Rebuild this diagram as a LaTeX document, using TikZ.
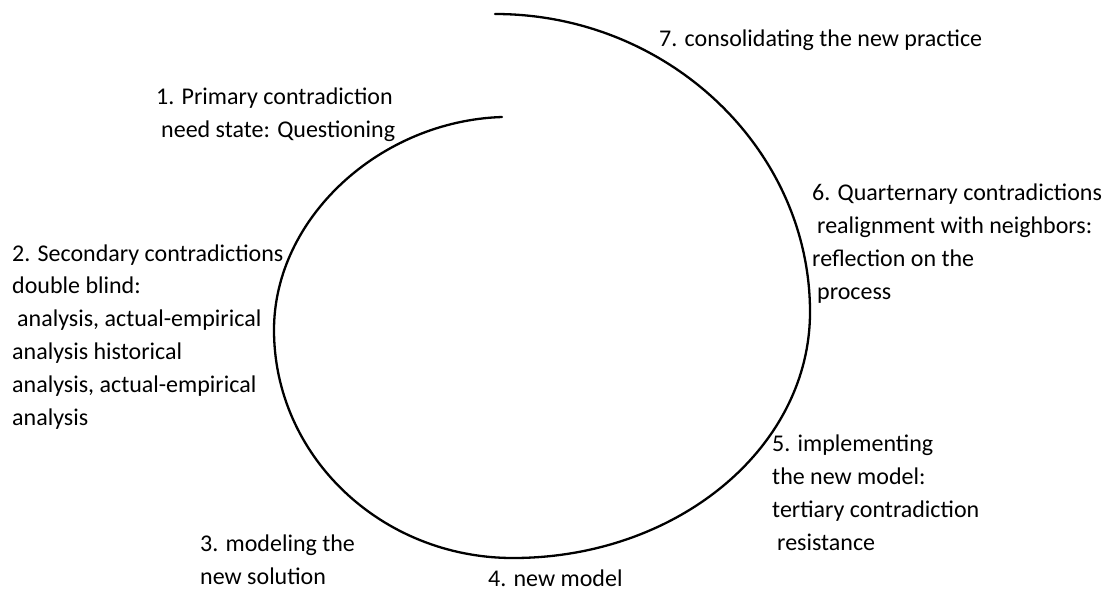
\documentclass[tikz,border=0pt]{standalone}
\usepackage{fontspec}
\setmainfont{Carlito}
\usetikzlibrary{positioning}
\tikzset{
  stage/.style={anchor=base west, align=left, inner sep=0pt,
    font=\fontsize{24}{32.8}\selectfont},
  spiral/.style={line width=2.3pt, line cap=round},
}

\begin{document}
\begin{tikzpicture}[x=1pt,y=-1pt]
\useasboundingbox (0,0) rectangle (1107,592);
\coordinate (inner) at (502,117);
\coordinate (left) at (274,330);
\coordinate (bottom) at (513,558);
\coordinate (right) at (810,312);
\coordinate (outer) at (495,14);
\draw[spiral] (inner)
  .. controls (380,121) and (274,218) .. (left)
  .. controls (274,456) and (381,558) .. (bottom)
  .. controls (677,558) and (810,448) .. (right)
  .. controls (810,150) and (669,14) .. (outer);
% base anchor sits on the last line
\node[stage] (s7) at (659,46) {7. consolidating the new practice};
\node[stage] (s1) at (156,137) {1. Primary contradiction\\
  \hspace{5pt}need state: Questioning};
\node[stage] (s2) at (12,425) {2. Secondary contradictions\\
  double blind:\\
  \hspace{5pt}analysis, actual-empirical\\
  analysis historical\\
  analysis, actual-empirical\\
  analysis};
\node[stage] (s6) at (812,299) {6. Quarternary contradictions\\
  \hspace{5pt}realignment with neighbors:\\
  reflection on the\\
  \hspace{5pt}process};
\node[stage] (s5) at (772,550) {5. implementing\\
  the new model:\\
  tertiary contradiction\\
  \hspace{5pt}resistance};
\node[stage] (s3) at (200,584) {3. modeling the\\
  new solution};
\node[stage] (s4) at (488,586) {4. new model};
\end{tikzpicture}
\end{document}
